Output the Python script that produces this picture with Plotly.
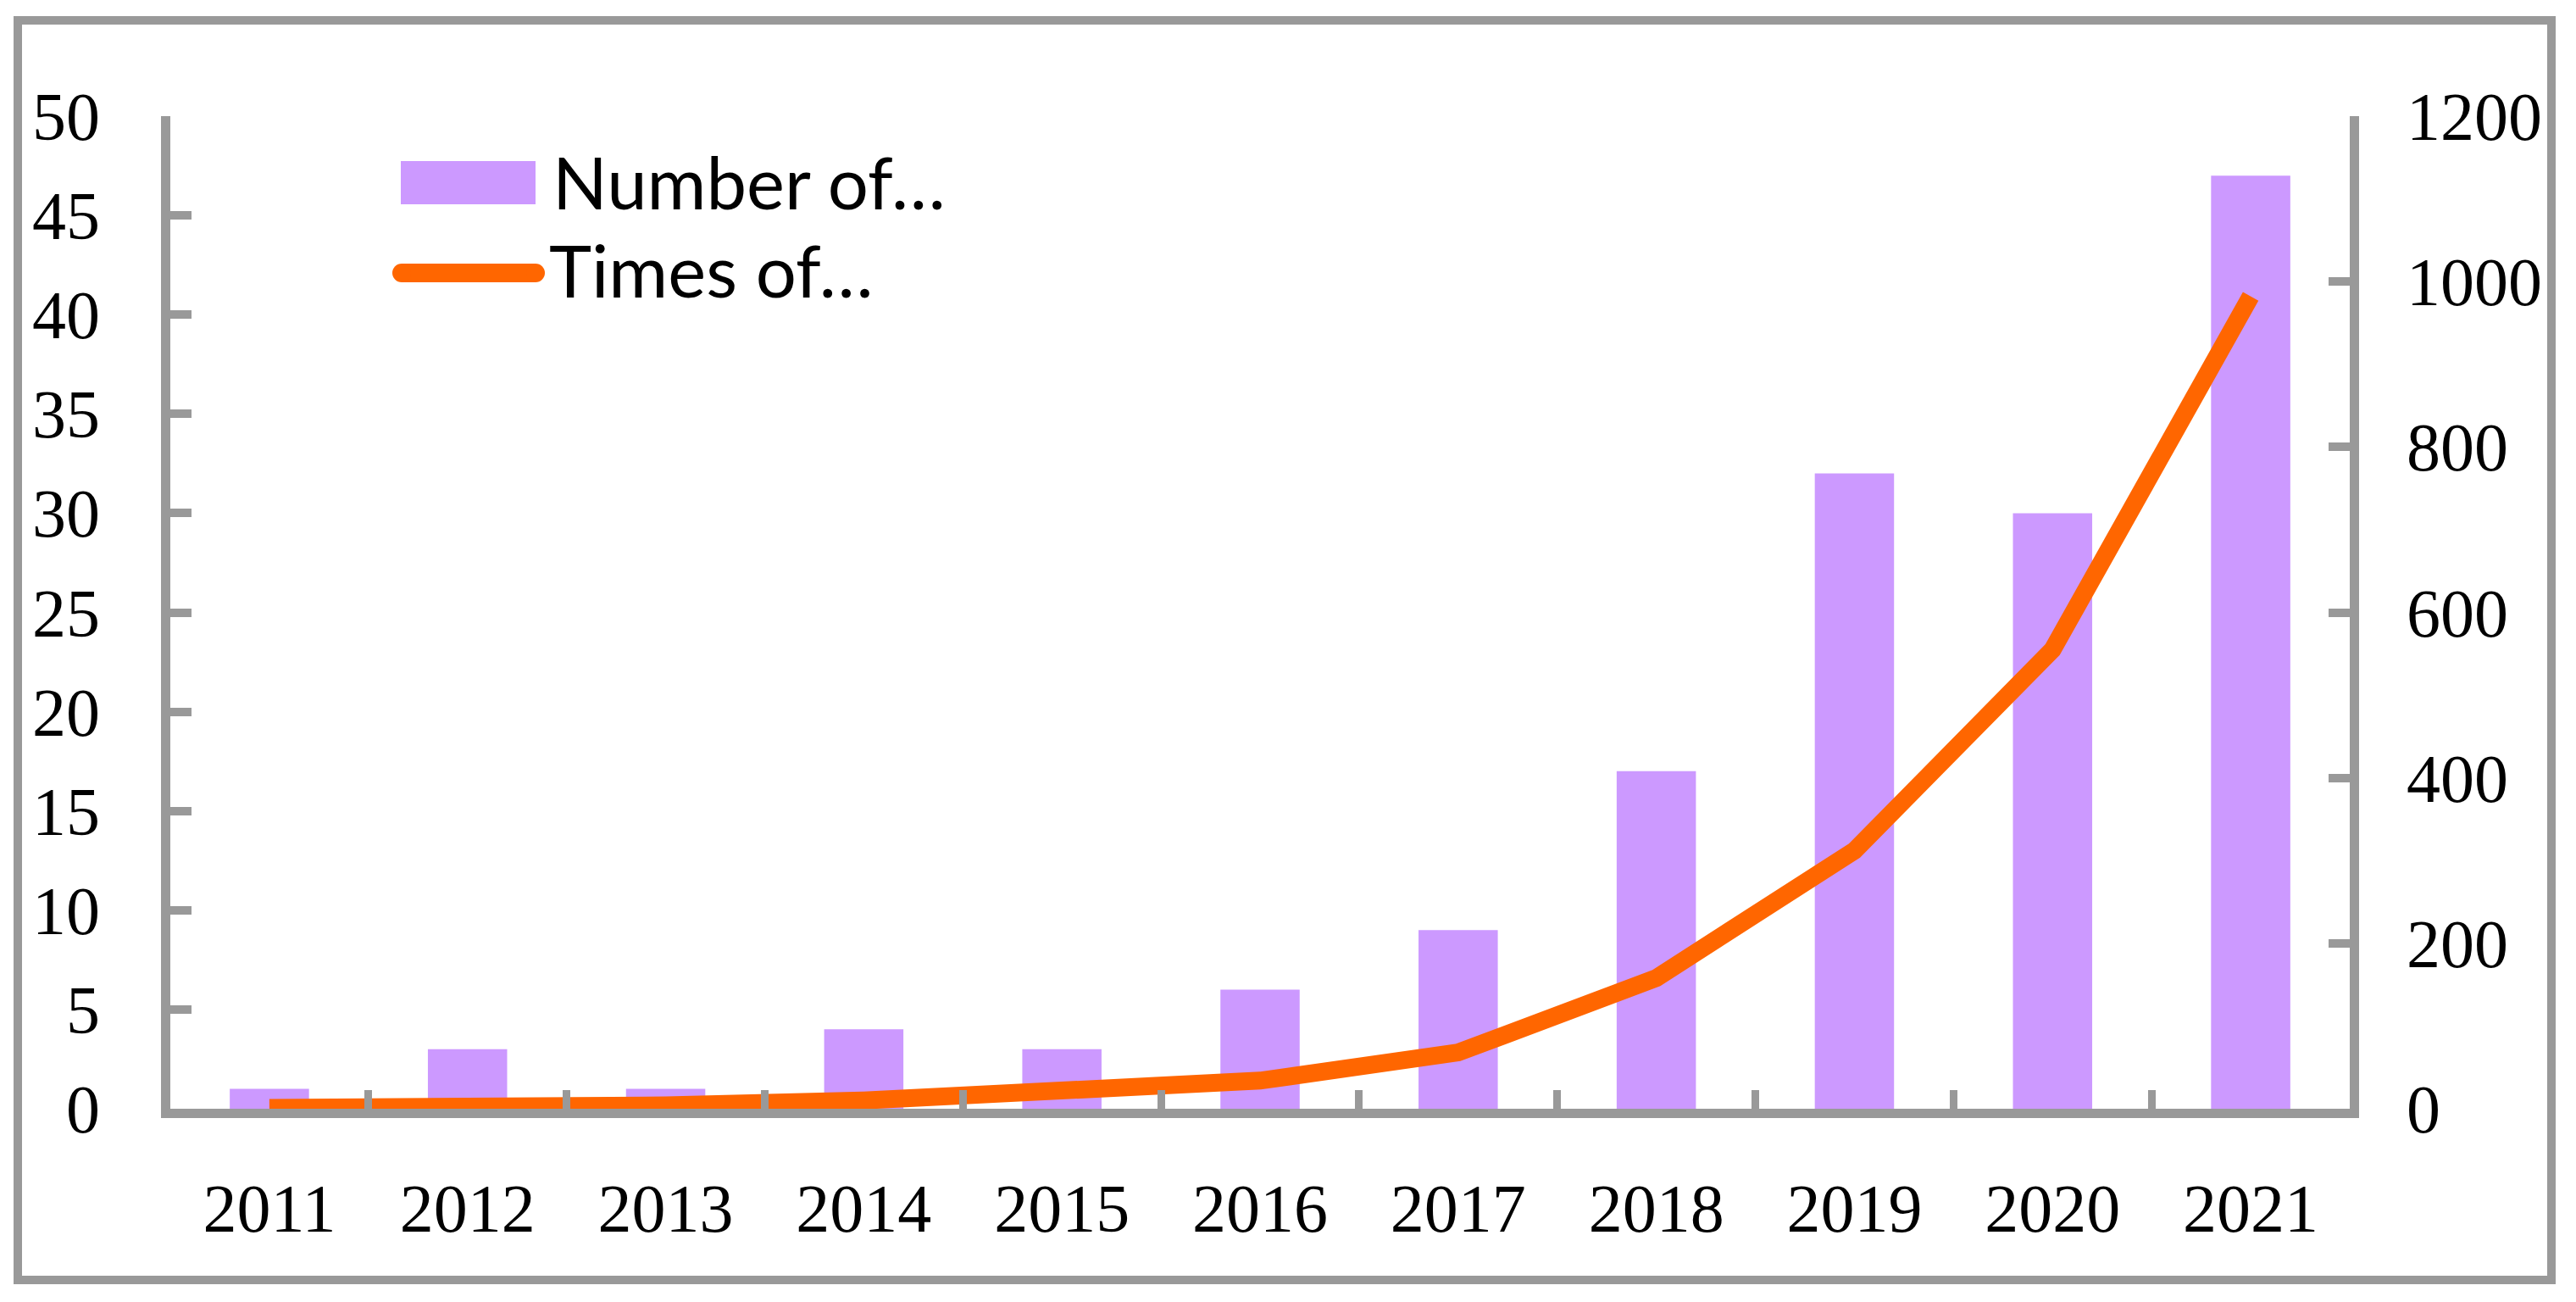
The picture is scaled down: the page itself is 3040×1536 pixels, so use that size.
import plotly.graph_objects as go

years = ["2011", "2012", "2013", "2014", "2015", "2016", "2017", "2018", "2019", "2020", "2021"]
numbers = [1, 3, 1, 4, 3, 6, 9, 17, 32, 30, 47]
times = [1, 2, 4, 10, 20, 34, 68, 158, 312, 555, 982]
left_ticks = [0, 5, 10, 15, 20, 25, 30, 35, 40, 45, 50]
right_ticks = [0, 200, 400, 600, 800, 1000, 1200]
legend_labels = ["Number of…", "Times of…"]

OFF = 8  # page body margin
W_FIG, H_FIG = 3040, 1536
L, R, T, B = 201 - OFF, 2773 - OFF, 137 - OFF, 1308 - OFF
PW, PH = R - L, B - T

def px(x):
    return (x - OFF - L) / PW

def py(y):
    return (B - (y - OFF)) / PH

GRAY = "#999999"
PURPLE = "#CC99FF"
ORANGE = "#FF6600"
tickfont = dict(family="Liberation Serif", size=80, color="black")

fig = go.Figure()
fig.add_trace(go.Bar(x=years, y=numbers, name=legend_labels[0], marker=dict(color=PURPLE, line=dict(width=0)), yaxis="y"))
fig.add_trace(go.Scatter(x=years, y=times, name=legend_labels[1], mode="lines", line=dict(color=ORANGE, width=21), yaxis="y2"))

shapes = [
    dict(type="rect", xref="paper", yref="paper", x0=px(21), x1=px(3011), y0=py(1510), y1=py(24),
         line=dict(color=GRAY, width=10), fillcolor="rgba(0,0,0,0)", layer="below"),
    dict(type="rect", xref="paper", yref="paper", x0=px(473), x1=px(632), y0=py(241), y1=py(190),
         line=dict(width=0), fillcolor=PURPLE),
    dict(type="line", xref="paper", yref="paper", x0=px(474), x1=px(632), y0=py(322), y1=py(322),
         line=dict(color=ORANGE, width=22)),
    dict(type="circle", xref="paper", yref="paper", x0=px(463), x1=px(485), y0=py(333), y1=py(311),
         line=dict(width=0), fillcolor=ORANGE),
    dict(type="circle", xref="paper", yref="paper", x0=px(621), x1=px(643), y0=py(333), y1=py(311),
         line=dict(width=0), fillcolor=ORANGE),
]

annotations = [
    dict(xref="paper", yref="paper", x=px(650), y=py(214), text=legend_labels[0], showarrow=False,
         xanchor="left", yanchor="middle", font=dict(family="Lato", size=85, color="black")),
    dict(xref="paper", yref="paper", x=px(646), y=py(318), text=legend_labels[1], showarrow=False,
         xanchor="left", yanchor="middle", font=dict(family="Lato", size=85, color="black")),
]

axis_common = dict(showgrid=False, zeroline=False, showline=True, linecolor=GRAY, linewidth=11,
                   ticks="inside", tickcolor=GRAY, tickfont=tickfont)

fig.update_layout(
    width=W_FIG, height=H_FIG,
    margin=dict(l=L, r=W_FIG - R, t=T, b=H_FIG - B),
    paper_bgcolor="white", plot_bgcolor="white",
    showlegend=False,
    bargap=0.6,
    xaxis=dict(**axis_common, type="category", tickson="boundaries", ticklen=22, tickwidth=9,
               ticklabelstandoff=38),
    yaxis=dict(**axis_common, range=[0, 50], tickvals=left_ticks, ticklen=25, tickwidth=10,
               ticklabelstandoff=56),
    yaxis2=dict(**axis_common, range=[0, 1200], tickvals=right_ticks, ticklen=25, tickwidth=10,
                overlaying="y", side="right", ticklabelstandoff=40),
    shapes=shapes,
    annotations=annotations,
)

fig.write_html("out.html")
